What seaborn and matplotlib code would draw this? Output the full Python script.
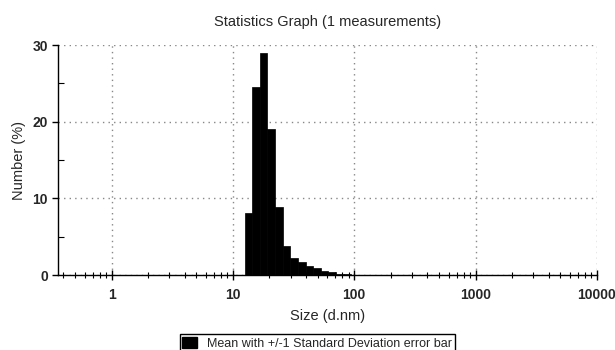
import numpy as np
import pandas as pd
import matplotlib
matplotlib.use("Agg")
import matplotlib.pyplot as plt
import seaborn as sns
from matplotlib.patches import Patch
from matplotlib.ticker import FixedLocator, LogLocator, NullFormatter

# size classes (d.nm) - bin edges
bin_edges = [12.5, 14.4, 16.7, 19.3, 22.3, 25.8, 29.8, 34.4, 39.8, 46.0,
             53.1, 61.4, 70.9, 82.0, 94.7]
# number distribution (%) per size class
number_pct = [8.1, 24.6, 29.0, 19.0, 8.9, 3.8, 2.2, 1.65, 1.2, 0.87,
              0.6, 0.35, 0.2, 0.1]
x_ticks = [1, 10, 100, 1000, 10000]
x_tick_labels = ["1", "10", "100", "1000", "10000"]
y_ticks = [0, 10, 20, 30]

edges = np.array(bin_edges)
df = pd.DataFrame({
    "size": np.sqrt(edges[:-1] * edges[1:]),
    "number": number_pct,
})

sns.set_style("white")
plt.rcParams["font.family"] = ["Liberation Sans", "DejaVu Sans"]

fig = plt.figure(figsize=(6.15, 3.5), dpi=100)
ax = fig.add_axes([0.094, 0.214, 0.8765, 0.657])

sns.histplot(data=df, x="size", weights="number",
             bins=[float(b) for b in np.log10(edges)],
             log_scale=True, element="bars", color="black", edgecolor="black",
             linewidth=0.5, alpha=1, ax=ax, zorder=3)

ax.set_xlim(0.361, 10000)
ax.set_ylim(0, 30)

ax.xaxis.set_major_locator(FixedLocator(x_ticks))
ax.set_xticklabels(x_tick_labels, fontsize=10, fontweight="bold")
ax.xaxis.set_minor_locator(LogLocator(base=10, subs=np.arange(2, 10)))
ax.xaxis.set_minor_formatter(NullFormatter())
ax.set_yticks(y_ticks)
ax.set_yticklabels([str(v) for v in y_ticks], fontsize=10, fontweight="bold")
ax.set_yticks([5, 15, 25], minor=True)

ax.tick_params(bottom=True, left=True, which="both", color="black")
ax.tick_params(axis="x", which="major", direction="inout", length=7, width=1, pad=6)
ax.tick_params(axis="x", which="minor", direction="inout", length=5, width=0.8)
ax.tick_params(axis="y", which="major", direction="out", length=4, width=1, pad=3)
ax.tick_params(axis="y", which="minor", direction="in", length=4, width=0.8)

ax.grid(True, which="major", color="#888888", linestyle=(0, (1, 3)), linewidth=1)
ax.set_axisbelow(True)
for s in ["top", "right"]:
    ax.spines[s].set_visible(False)
for s in ["left", "bottom"]:
    ax.spines[s].set_color("black")
    ax.spines[s].set_linewidth(1)

ax.set_title("Statistics Graph (1 measurements)", fontsize=10.5, pad=14)
ax.set_xlabel("Size (d.nm)", fontsize=10.5, labelpad=5)
ax.set_ylabel("Number (%)", fontsize=10.5, labelpad=5)

fig.legend(handles=[Patch(facecolor="black", edgecolor="black")],
           labels=["Mean with +/-1 Standard Deviation error bar"],
           loc="upper center", bbox_to_anchor=(0.516, 0.045), fontsize=9,
           frameon=True, fancybox=False, edgecolor="black", framealpha=1,
           borderaxespad=0, handlelength=1.2, handleheight=1.0,
           borderpad=0.2, handletextpad=0.8)

fig.savefig("out.png", dpi=100)
